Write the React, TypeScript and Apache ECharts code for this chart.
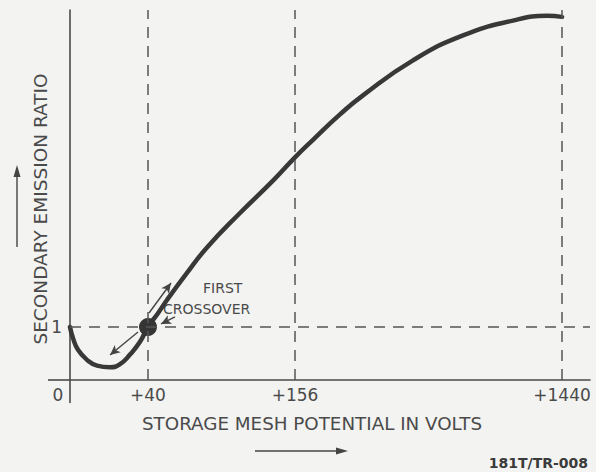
import React, { useEffect, useRef } from "react";
import * as echarts from "echarts";

// Schematic (non-linear) x positions along the voltage axis; y = secondary emission ratio
const curveX = [0, 3, 8, 17, 27, 40, 50, 60, 70, 78, 88, 97, 117, 137, 170, 203, 225, 243, 270, 293, 343, 393, 443, 477, 492];
const curveY = [1.0, 0.79, 0.57, 0.38, 0.27, 0.24, 0.3, 0.48, 0.72, 1.0, 1.26, 1.51, 2.02, 2.5, 3.15, 3.76, 4.2, 4.53, 5.01, 5.37, 6.03, 6.5, 6.78, 6.87, 6.85];

const xTickLabels = ["0", "+40", "+156", "+1440"];
const xTickPositions = [0, 78, 225, 492];
const guideX = [78, 225, 492];
const unityRatio = 1;
const crossover = [78, 1];

// annotation arrows: [x1, y1, x2, y2] in data units
const annotationArrows = [
  [79, 1.264, 101, 1.83],
  [105, 1.19, 91, 1.057],
  [68, 0.906, 40, 0.472],
];

const X_MIN = 0;
const X_MAX = 520;
const Y_MIN = 0;
const Y_MAX = 6.98;

const FONT = "DejaVu Sans";
const INK = "#4a4a4a";
const AXIS = "#4a4a4a";

export default function App() {
  const ref = useRef<HTMLDivElement>(null);

  useEffect(() => {
    if (!ref.current) return;
    const chart = echarts.init(ref.current, undefined, { renderer: "svg" });

    const guideLines: any[] = guideX.map((gx) => [
      { coord: [gx, Y_MIN] },
      { coord: [gx, Y_MAX] },
    ]);
    guideLines.push([{ coord: [X_MIN, unityRatio] }, { coord: [X_MAX, unityRatio] }]);

    const arrowLines = annotationArrows.map((a) => [
      { coord: [a[0], a[1]] },
      { coord: [a[2], a[3]] },
    ]);

    const option: any = {
      animation: false,
      backgroundColor: "#f3f3f1",
      grid: { left: 70, right: 6, top: 10, bottom: 92, containLabel: false, outerBoundsMode: "none" },
      xAxis: {
        type: "value",
        min: X_MIN,
        max: X_MAX,
        name: "STORAGE MESH POTENTIAL IN VOLTS",
        nameLocation: "middle",
        nameGap: 34,
        nameMoveOverlap: false,
        nameTextStyle: { fontFamily: FONT, fontSize: 18.3, color: INK, padding: [0, 36, 0, 0] },
        axisLine: { lineStyle: { color: AXIS, width: 1.6 } },
        axisTick: { show: false },
        splitLine: { show: false },
        axisLabel: {
          customValues: xTickPositions,
          margin: 6,
          fontFamily: FONT,
          fontSize: 17,
          color: INK,
          formatter: (v: number) => {
            const i = xTickPositions.indexOf(v);
            if (i < 0) return "";
            return i === 0 ? `{z|${xTickLabels[i]}}` : xTickLabels[i];
          },
          rich: {
            z: { fontFamily: FONT, fontSize: 17, color: INK, padding: [0, 24, 0, 0] },
          },
        },
      },
      yAxis: {
        type: "value",
        min: Y_MIN,
        max: Y_MAX,
        name: "SECONDARY EMISSION RATIO",
        nameLocation: "middle",
        nameGap: 20,
        nameMoveOverlap: false,
        nameTextStyle: { fontFamily: FONT, fontSize: 18.5, color: INK, padding: [0, 28, 0, 0] },
        axisLine: { lineStyle: { color: AXIS, width: 1.6 } },
        axisTick: { show: false },
        splitLine: { show: false },
        axisLabel: {
          customValues: [unityRatio],
          margin: 8,
          fontFamily: FONT,
          fontSize: 17,
          color: INK,
          formatter: (v: number) => String(v),
        },
      },
      series: [
        {
          type: "line",
          data: [],
          silent: true,
          markLine: {
            silent: true,
            symbol: ["none", "none"],
            label: { show: false },
            lineStyle: { type: [11, 8], width: 1.5, color: "#555" },
            emphasis: { disabled: true },
            data: guideLines,
          },
        },
        {
          type: "line",
          data: curveX.map((x, i) => [x, curveY[i]]),
          smooth: 0.5,
          showSymbol: false,
          symbol: "none",
          silent: true,
          lineStyle: { color: "#383838", width: 4.5, cap: "round" },
          emphasis: { disabled: true },
          z: 3,
        },
        {
          type: "scatter",
          data: [crossover],
          symbolSize: 18,
          silent: true,
          itemStyle: { color: "#353535", opacity: 1 },
          z: 4,
          markLine: {
            silent: true,
            symbol: ["none", "arrow"],
            symbolSize: [7, 10],
            label: { show: false },
            lineStyle: { type: "solid", width: 1.4, color: "#444" },
            emphasis: { disabled: true },
            data: arrowLines,
          },
        },
      ],
      graphic: [
        // axis overhangs past the origin
        {
          type: "line",
          shape: { x1: 48, y1: 380, x2: 70, y2: 380 },
          style: { stroke: AXIS, lineWidth: 1.6 },
        },
        {
          type: "line",
          shape: { x1: 70, y1: 380, x2: 70, y2: 403 },
          style: { stroke: AXIS, lineWidth: 1.6 },
        },
        {
          type: "text",
          left: 203,
          top: 281,
          style: { text: "FIRST", font: `14px "${FONT}"`, fill: INK },
        },
        {
          type: "text",
          left: 163,
          top: 302,
          style: { text: "CROSSOVER", font: `14px "${FONT}"`, fill: INK },
        },
        {
          type: "line",
          shape: { x1: 17, y1: 247, x2: 17, y2: 172 },
          style: { stroke: "#444", lineWidth: 1.4 },
        },
        {
          type: "polygon",
          shape: { points: [[17, 165], [13.5, 177], [20.5, 177]] },
          style: { fill: "#444" },
        },
        {
          type: "line",
          shape: { x1: 255, y1: 451, x2: 340, y2: 451 },
          style: { stroke: "#444", lineWidth: 1.4 },
        },
        {
          type: "polygon",
          shape: { points: [[348, 451], [336, 447.5], [336, 454.5]] },
          style: { fill: "#444" },
        },
        {
          type: "text",
          right: 8,
          top: 456,
          style: { text: "181T/TR-008", font: `bold 14px "${FONT}"`, fill: "#3a3a3a" },
        },
      ],
    };

    chart.setOption(option);
    return () => chart.dispose();
  }, []);

  return (
    <div
      ref={ref}
      style={{ position: "fixed", left: 0, top: 0, width: 596, height: 472 }}
    />
  );
}
